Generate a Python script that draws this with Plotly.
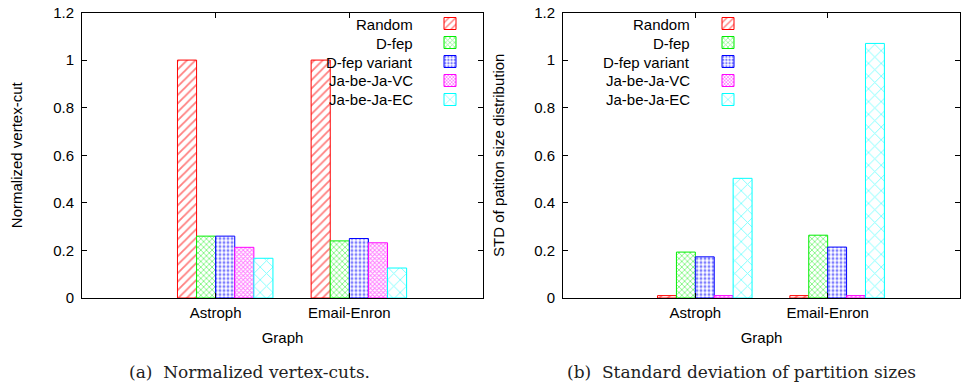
import plotly.graph_objects as go

# ---------------- data ----------------
GRAPHS = ["Astroph", "Email-Enron"]
SERIES = ["Random", "D-fep", "D-fep variant", "Ja-be-Ja-VC", "Ja-be-Ja-EC"]
VERTEX_CUT = {
    "Random":        [1.00, 1.00],
    "D-fep":         [0.26, 0.24],
    "D-fep variant": [0.26, 0.25],
    "Ja-be-Ja-VC":   [0.213, 0.232],
    "Ja-be-Ja-EC":   [0.167, 0.126],
}
STD_SIZE = {
    "Random":        [0.01, 0.01],
    "D-fep":         [0.193, 0.264],
    "D-fep variant": [0.173, 0.214],
    "Ja-be-Ja-VC":   [0.01, 0.01],
    "Ja-be-Ja-EC":   [0.503, 1.07],
}
Y_TICKS = [0, 0.2, 0.4, 0.6, 0.8, 1.0, 1.2]

# ---------------- style ----------------
W, H = 961, 385
COLORS = ["#ff0000", "#00ee00", "#0000ff", "#ff00ff", "#00ffff"]
PATTERNS = [
    dict(shape="/", size=6, solidity=0.3),
    dict(shape="x", size=4, solidity=0.4),
    dict(shape=".", size=4, solidity=0.45),
    dict(shape="x", size=3, solidity=0.55),
    dict(shape="x", size=9, solidity=0.2),
]
BAR_W = 1 / 7
FONT = "Liberation Sans, Arial, sans-serif"
SERIF = "DejaVu Serif, Liberation Serif, serif"


def px_x(x):
    return x / W


def px_y(y):
    return 1 - y / H


fig = go.Figure()

panels = [
    dict(data=VERTEX_CUT, xa="x", ya="y", legend="legend"),
    dict(data=STD_SIZE, xa="x2", ya="y2", legend="legend2"),
]
for p in panels:
    for j, s in enumerate(SERIES):
        fig.add_trace(go.Bar(
            x=GRAPHS, y=p["data"][s], name=" ",
            xaxis=p["xa"], yaxis=p["ya"], legend=p["legend"],
            width=BAR_W, offset=-2 * BAR_W + j * BAR_W,
            marker=dict(
                color="white",
                line=dict(color=COLORS[j], width=1),
                pattern=dict(fgcolor=COLORS[j], fillmode="overlay", **PATTERNS[j]),
            ),
            hovertemplate=s + ": %{y}<extra></extra>",
        ))

axis_common = dict(
    showline=True, linecolor="black", linewidth=1, mirror="ticks",
    ticks="inside", ticklen=5, tickcolor="black",
    showgrid=False, zeroline=False, automargin=False,
    tickfont=dict(family=FONT, size=15, color="black"),
)
TOP, BOT = 12.5, 298
layout = dict(
    width=W, height=H, margin=dict(l=0, r=0, t=0, b=0, pad=0, autoexpand=False),
    plot_bgcolor="white", paper_bgcolor="white",
    barmode="overlay", font=dict(family=FONT, size=15, color="black"),
    xaxis=dict(domain=[px_x(82), px_x(483)], type="category", range=[-1, 2],
               title=dict(text="Graph", standoff=12, font=dict(size=15)), anchor="y",
               ticklabelstandoff=1, **axis_common),
    yaxis=dict(domain=[px_y(BOT), px_y(TOP)], range=[0, 1.2], tickvals=Y_TICKS,
               title=dict(text="Normalized vertex-cut", standoff=26, font=dict(size=15)),
               anchor="x", ticklabelstandoff=4, **axis_common),
    xaxis2=dict(domain=[px_x(563), px_x(960)], type="category", range=[-1, 2],
                title=dict(text="Graph", standoff=12, font=dict(size=15)), anchor="y2",
                ticklabelstandoff=1, **axis_common),
    yaxis2=dict(domain=[px_y(BOT), px_y(TOP)], range=[0, 1.2], tickvals=Y_TICKS,
                title=dict(text="STD of patiton size distribution", standoff=25,
                           font=dict(size=15)),
                anchor="x2", ticklabelstandoff=4, **axis_common),
    legend=dict(x=px_x(430), y=px_y(9), xanchor="left", yanchor="top",
                bgcolor="rgba(0,0,0,0)", borderwidth=0, traceorder="normal",
                font=dict(size=12)),
    legend2=dict(x=px_x(708), y=px_y(9), xanchor="left", yanchor="top",
                 bgcolor="rgba(0,0,0,0)", borderwidth=0, traceorder="normal",
                 font=dict(size=12)),
)
fig.update_layout(**layout)

# legend labels to the left of the keys (gnuplot style)
ROW0, ROW_H = 24, 19
for x_end in (415, 692):
    for j, s in enumerate(SERIES):
        fig.add_annotation(
            text=s, xref="paper", yref="paper", x=px_x(x_end), y=px_y(ROW0 + j * ROW_H),
            xanchor="right", yanchor="middle", showarrow=False,
            font=dict(family=FONT, size=15, color="black"),
        )

# sub-figure captions
for text, xc in (("(a)  Normalized vertex-cuts.", 250),
                 ("(b)  Standard deviation of partition sizes", 741)):
    fig.add_annotation(
        text=text, xref="paper", yref="paper", x=px_x(xc), y=px_y(372),
        xanchor="center", yanchor="middle", showarrow=False,
        font=dict(family=SERIF, size=17, color="#222222"),
    )

fig.write_html(
    "out.html",
    config={"displayModeBar": False},
    post_script="document.body.style.margin='0';document.body.style.overflow='hidden';",
)
